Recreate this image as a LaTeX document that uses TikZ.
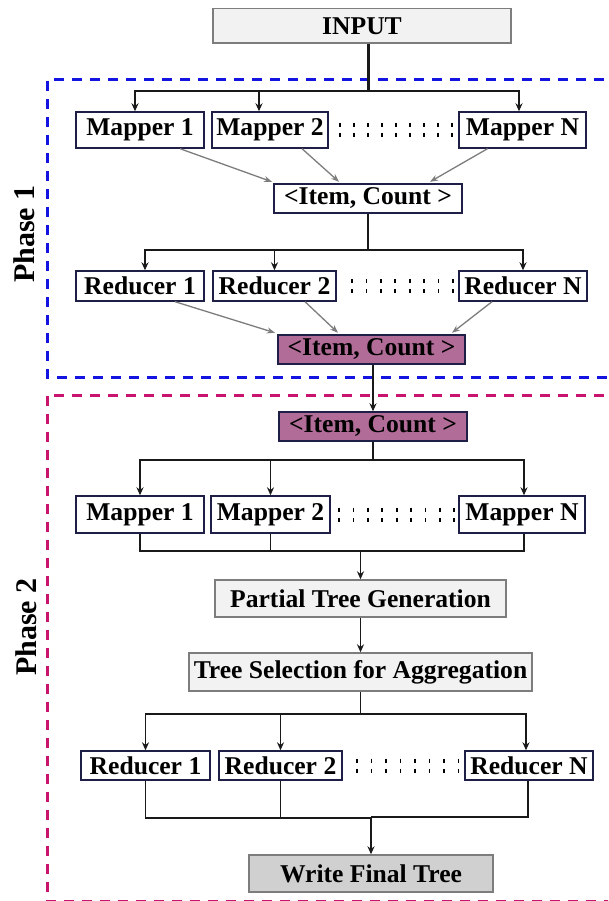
\documentclass[tikz,border=0pt]{standalone}
\usepackage{fontspec}
\setmainfont{Liberation Serif}
\usetikzlibrary{arrows.meta}
\definecolor{navyline}{RGB}{30,30,70}
\definecolor{lightfill}{RGB}{242,242,242}
\definecolor{darkfill}{RGB}{208,208,208}
\definecolor{purplefill}{RGB}{178,108,152}
\definecolor{phaseblue}{RGB}{20,20,225}
\definecolor{phasepink}{RGB}{200,20,110}
\definecolor{grayline}{RGB}{125,125,125}
\newcommand\dotcols[4]{\foreach \i in {0,...,#3} \draw[line width=1.8pt, dash pattern=on 4pt off 6pt] ({#1+#4*\i},#2-7) -- ({#1+#4*\i},#2+7);}
\begin{document}
\begin{tikzpicture}[x=1pt,y=-1pt,
  box/.style={draw=navyline, line width=1.4pt, fill=white, inner sep=0pt,
    font=\bfseries\fontsize{25.6}{30}\selectfont},
  lightbox/.style={box, draw=grayline, fill=lightfill},
  darkbox/.style={box, draw=grayline, fill=darkfill},
  purplebox/.style={box, fill=purplefill},
  wire/.style={line width=1.8pt, black!90},
  arr/.style={wire, -{Stealth[length=8pt,width=7pt]}},
  garr/.style={line width=1.3pt, grayline, -{Stealth[length=8pt,width=6pt]}},
  phaselabel/.style={rotate=90, font=\bfseries\fontsize{30}{34}\selectfont},
  phaseframe/.style={line width=3pt, dash pattern=on 10pt off 8pt}]
\useasboundingbox (0,0) rectangle (608,901);
\clip (0,0) rectangle (608,901);
\fill[white] (0,0) rectangle (608,901);

% phase frames
\draw[phaseframe, phaseblue] (640,80) -- (47,80) -- (47,377) -- (640,377);
\draw[phaseframe, phasepink] (640,395) -- (47,395) -- (47,901.5) -- (640,901.5);
\node[phaselabel] (ph1) at (24,234) {Phase 1};
\node[phaselabel] (ph2) at (26,627) {Phase 2};

% ---- Phase 1 ----
\node[lightbox, minimum width=298pt, minimum height=34.5pt] (in) at (362,25.75) {INPUT};
\node[box, minimum width=128pt, minimum height=36pt] (m1) at (140,130) {Mapper 1};
\node[box, minimum width=116pt, minimum height=36pt] (m2) at (270,130) {Mapper 2};
\node[box, minimum width=127pt, minimum height=36pt] (mN) at (522.5,130) {Mapper N};
\dotcols{340}{130}{8}{14}
\node[box, minimum width=188pt, minimum height=29pt] (it1) at (368,198.5) {<Item, Count >};
\node[box, minimum width=128pt, minimum height=30pt] (r1) at (140,286) {Reducer 1};
\node[box, minimum width=123pt, minimum height=30pt] (r2) at (274.5,286) {Reducer 2};
\node[box, minimum width=128pt, minimum height=30pt] (rN) at (523,286) {Reducer N};
\dotcols{352}{286}{7}{14.4}
\node[purplebox, minimum width=187pt, minimum height=29pt] (p1) at (371.5,349.5) {<Item, Count >};

\coordinate (j1) at (368,91);
\draw[wire, line width=3pt] (in.south -| j1) -- (j1);
\draw[wire, line width=2.2pt] ([xshift=-5pt]m1.north |- j1) -- ([xshift=-3.5pt]mN.north |- j1);
\draw[arr] (j1) -| ([xshift=-5pt]m1.north);
\draw[arr] (j1) -| ([xshift=-11pt]m2.north);
\draw[arr] (j1) -| ([xshift=-3.5pt]mN.north);

\draw[garr] ([xshift=40pt]m1.south) -- ([xshift=-96pt,yshift=1.5pt]it1.north);
\draw[garr] ([xshift=32pt]m2.south) -- ([xshift=-29pt,yshift=1.5pt]it1.north);
\draw[garr] ([xshift=-35pt]mN.south) -- ([xshift=62pt,yshift=1.5pt]it1.north);

\coordinate (j2) at (368,250);
\draw[wire] (it1.south) -- (j2);
\draw[wire] ([xshift=5pt]r1.north |- j2) -- (rN.north |- j2);
\draw[arr] (j2) -| ([xshift=5pt]r1.north);
\draw[arr] (j2) -| (r2.north);
\draw[arr] (j2) -| (rN.north);

\draw[garr] ([xshift=35pt]r1.south) -- ([xshift=-96.5pt,yshift=1.5pt]p1.north);
\draw[garr] ([xshift=30.5pt]r2.south) -- ([xshift=-33.5pt,yshift=1.5pt]p1.north);
\draw[garr] ([xshift=-31pt]rN.south) -- ([xshift=80.5pt,yshift=1.5pt]p1.north);

% ---- Phase 2 ----
\node[purplebox, minimum width=188pt, minimum height=29pt] (p2) at (373,426.5) {<Item, Count >};
\draw[arr] (p1.south -| p2) -- (p2.north);

\node[box, minimum width=128pt, minimum height=37pt] (m1b) at (140,514.5) {Mapper 1};
\node[box, minimum width=119pt, minimum height=37pt] (m2b) at (270.5,514.5) {Mapper 2};
\node[box, minimum width=126pt, minimum height=37pt] (mNb) at (522,514.5) {Mapper N};
\dotcols{339}{514.5}{8}{14.4}

\coordinate (j3) at (373,460);
\draw[wire] (p2.south) -- (j3);
\draw[wire] (m1b.north |- j3) -- ([xshift=2pt]mNb.north |- j3);
\draw[arr] (j3) -| (m1b.north);
\draw[arr] (j3) -| (m2b.north);
\draw[arr] (j3) -| ([xshift=2pt]mNb.north);

\node[lightbox, minimum width=291pt, minimum height=37pt] (pt) at (360.5,598.5) {Partial Tree Generation};
\node[lightbox, minimum width=343pt, minimum height=38pt] (ts) at (360.5,672) {Tree Selection for Aggregation};

\coordinate (j4) at (360.5,551);
\draw[wire] (m1b.south) |- (j4);
\draw[wire] (m2b.south) -- (m2b.south |- j4);
\draw[wire] ([xshift=2pt]mNb.south) |- (j4);
\draw[arr] (j4) -- (pt.north);
\draw[arr] (pt.south) -- (ts.north);

\node[box, minimum width=129pt, minimum height=29pt] (r1b) at (145.5,765.5) {Reducer 1};
\node[box, minimum width=123pt, minimum height=29pt] (r2b) at (280.5,765.5) {Reducer 2};
\node[box, minimum width=128pt, minimum height=29pt] (rNb) at (529,765.5) {Reducer N};
\dotcols{357}{765.5}{7}{14.5}

\coordinate (j5) at (360.5,714);
\draw[wire] (ts.south) -- (j5);
\draw[wire] (r1b.north |- j5) -- ([xshift=-3pt]rNb.north |- j5);
\draw[arr] (j5) -| (r1b.north);
\draw[arr] (j5) -| (r2b.north);
\draw[arr] (j5) -| ([xshift=-3pt]rNb.north);

\node[darkbox, minimum width=244pt, minimum height=37pt] (wf) at (371,873.5) {Write Final Tree};

\coordinate (j6) at (371,818);
\coordinate (j7) at (371,817);
\draw[wire] (r1b.south) |- (j6);
\draw[wire] (r2b.south) -- (r2b.south |- j6);
\draw[wire] ([xshift=-1pt]rNb.south) |- (j7);
\draw[arr] (j7) -- (wf.north);
\end{tikzpicture}
\end{document}
